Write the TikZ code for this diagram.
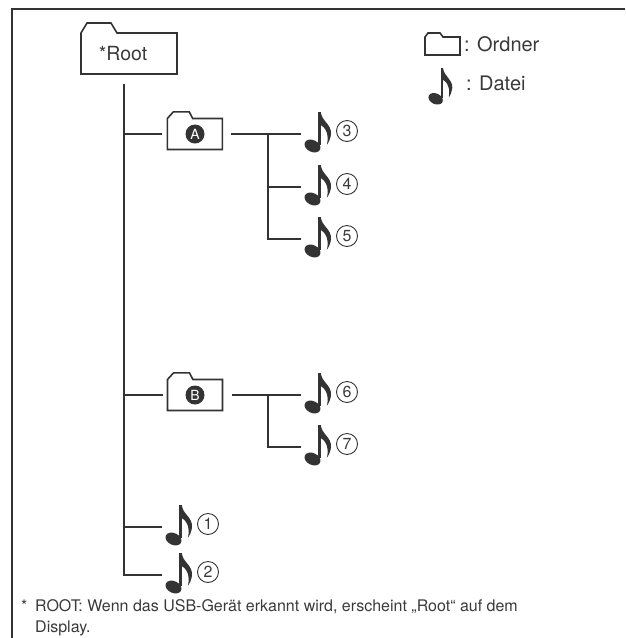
\documentclass[tikz,border=0pt]{standalone}
\usepackage{fontspec}
\setmainfont{TeX Gyre Heros}
\usetikzlibrary{calc}
\definecolor{ink}{HTML}{333333}
\definecolor{txt}{HTML}{3A3A3A}
\tikzset{
  tree/.style={draw=ink, line width=1.6pt},
  fold/.style={draw=ink, line width=1.6pt, line join=miter},
  framel/.style={draw=ink, line width=1.6pt},
  body/.style={rectangle, draw=none, inner sep=0pt, outer sep=0pt},
  num/.style={circle, draw=ink, line width=0.9pt, minimum size=21pt, inner sep=0pt, font=\fontsize{16}{16}\selectfont, text=txt},
  badge/.style={circle, fill=ink, minimum size=19pt, inner sep=0pt, font=\fontsize{14}{14}\selectfont, text=white},
  lbl/.style={inner sep=0pt, text=txt},
  musicnote/.pic={
    \fill[ink, rotate around={-25:(8.5,12)}] (8.5,12) ellipse [x radius=8.4, y radius=5.9];
    \fill[ink] (14.2,11) rectangle (16.8,-22);
    \fill[ink] (16.8,-22) .. controls (17.5,-13) and (27.5,-10) .. (27,0)
      .. controls (26.7,4) and (25,8) .. (23,10.5)
      .. controls (24,6) and (25,-4) .. (16.8,-9) -- cycle;
  }
}
% #1 node, #2 left slant, #3 tab height, #4 tab top width, #5 right slant
\newcommand\folderoutline[5]{%
  \draw[fold] ($(#1.north west)+(#2+#4+#5,0)$) -- (#1.north east) -- (#1.south east)
    -- (#1.south west) -- (#1.north west) -- ++(#2,-#3) -- ++(#4,0) -- cycle;}
\begin{document}
\begin{tikzpicture}[x=1pt,y=-1pt]
\useasboundingbox (0,0) rectangle (625,638);
% frame
\coordinate (fr1) at (625,9);
\coordinate (fr2) at (12,9);
\coordinate (fr3) at (12,638);
\draw[framel] (fr1) -- (fr2) -- (fr3);

% root folder
\node[body, minimum width=96pt, minimum height=41pt] (root) at (129,53.5) {};
\folderoutline{root}{6}{10}{24}{6}
\node[lbl, font=\fontsize{19.5}{19.5}\selectfont] (roottxt) at (123,54) {*Root};

% folders A and B
\node[body, minimum width=55pt, minimum height=31pt] (A) at (194.8,134) {};
\folderoutline{A}{6}{6.6}{16}{3.4}
\node[badge] (Ab) at (195,134) {A};
\node[body, minimum width=55pt, minimum height=31pt] (B) at (195,395) {};
\folderoutline{B}{6}{6.6}{16}{3.4}
\node[badge] (Bb) at (195,395) {B};

% connector end points
\coordinate (trunktop) at (124,84);
\coordinate (e1) at (162,527);
\coordinate (e2) at (162,575);
\coordinate (e3) at (301,134);
\coordinate (e4) at (301,187);
\coordinate (e5) at (301,239);
\coordinate (e6) at (301,395);
\coordinate (e7) at (301,447);
\coordinate (ja) at (268,134);
\coordinate (jb) at (268,395);

% trunk and branches
\draw[tree] (trunktop) |- (e2);
\draw[tree] (trunktop |- A.west) -- ([xshift=-5pt]A.west);
\draw[tree] (trunktop |- B.west) -- ([xshift=-5pt]B.west);
\draw[tree] (trunktop |- e1) -- (e1);
\draw[tree] ([xshift=9pt]A.east) -- (e3);
\draw[tree] (ja) |- (e5);
\draw[tree] (ja |- e4) -- (e4);
\draw[tree] ([xshift=9pt]B.east) -- (e6);
\draw[tree] (jb) |- (e7);

% notes and numbers
\foreach \i in {1,...,7}{
  \pic at ($(e\i)+(3,0)$) {musicnote};
  \node[num] (c\i) at ($(e\i)+(46,-3)$) {\i};
}

% legend
\node[body, minimum width=35pt, minimum height=18pt] (lf) at (442.5,46) {};
\folderoutline{lf}{3}{4}{12}{3}
\node[lbl, anchor=west, font=\fontsize{20}{20}\selectfont] (lft) at (464,44) {: Ordner};
\pic[scale=0.9] at (428,88) {musicnote};
\node[lbl, anchor=west, font=\fontsize{20}{20}\selectfont] (lnt) at (466,83) {: Datei};

% footnote
\node[lbl, anchor=base west, font=\fontsize{16}{21}\selectfont] (ast) at (21,611) {*};
\node[lbl, anchor=base west, align=left, font=\fontsize{16}{21}\selectfont] (fn) at (35,632)
  {ROOT: Wenn das USB-Gerät erkannt wird, erscheint „Root“ auf dem\\Display.};
\end{tikzpicture}
\end{document}
